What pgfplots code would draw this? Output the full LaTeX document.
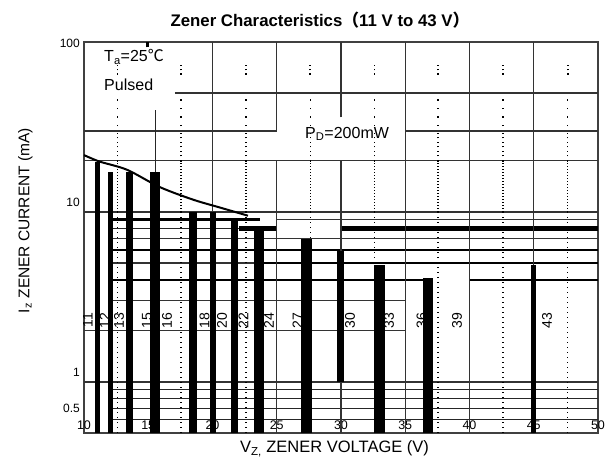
\documentclass[border=0pt]{standalone}
\usepackage{pgfplots}
\pgfplotsset{compat=1.18}
\usepackage{fontspec}
\setmainfont{Liberation Sans}
\newfontfamily\cjk{Noto Sans CJK SC}
\tikzset{
  grd/.style={black!80, line width=1.4pt},
  med/.style={black, line width=2pt},
  thk/.style={black, line width=2.6pt},
  band/.style={black, line width=5pt},
  thn/.style={black!85, line width=1.1pt},
}
\newcommand{\hl}[4]{\addplot[#1] coordinates {(#2,#4) (#3,#4)};}
\newcommand{\vl}[4]{\addplot[#1] coordinates {(#2,#3) (#2,#4)};}
\newcommand{\zbar}[4]{\addplot[fill=black, draw=none] coordinates {(#1,#3) (#1,#4) (#2,#4) (#2,#3)};}
\newcommand{\blab}[2]{\node[rotate=90, font=\fontsize{14}{16}\selectfont] at (axis cs:#1,2.3) {#2};}
\begin{document}
\begin{tikzpicture}
\path[use as bounding box] (-84pt,-29pt) rectangle (530pt,433pt);
\begin{axis}[
  at={(0,0)}, anchor=south west,
  scale only axis, width=514pt, height=391pt,
  xmin=10, xmax=50, ymode=log, ymin=0.5, ymax=100,
  xtick={10,15,20,25,30,35,40,45,50},
  xticklabel style={anchor=base, yshift=3pt, font=\fontsize{12.5}{14}\selectfont},
  ytick={0.5,1,10,100},
  yticklabels={\raisebox{20pt}{0.5},\raisebox{5pt}{1},\raisebox{5.5pt}{10},\raisebox{-5.5pt}{100}},
  yticklabel style={anchor=base east, inner sep=0pt, xshift=-4pt, font=\fontsize{12}{14}\selectfont},
  major tick length=0pt, minor tick length=0pt,
  axis line style={black!75, line width=1.4pt},
  /pgf/number format/assume math mode=true,
  no markers,
]
% horizontal grid segments
\hl{grd}{10}{50}{20}
\hl{grd}{10}{25}{30}
\hl{grd}{35}{50}{30}
\hl{grd}{17.08}{50}{50}
\hl{grd}{10}{50}{10}
\hl{thk}{12.26}{23.7}{9}
\hl{grd}{25}{50}{9}
\hl{thn}{12.26}{22.06}{8}
\hl{band}{22.06}{25}{8}
\hl{band}{30}{50}{8}
\hl{grd}{12.26}{50}{7}
\hl{med}{12.26}{50}{6}
\hl{grd}{12.26}{23.7}{5}
\hl{thk}{23.7}{50}{5}
\hl{med}{12.26}{36.8}{4}
\hl{med}{40}{50}{4}
\hl{grd}{12.26}{35}{3}
\hl{grd}{10}{35}{2}
\hl{grd}{10}{50}{1}
\hl{thn}{12.26}{50}{0.9}
\hl{thn}{12.26}{50}{0.8}
\hl{thn}{12.26}{50}{0.7}
\hl{thn}{12.26}{50}{0.6}
% vertical grid segments
\vl{grd}{20}{10}{100}
\vl{grd}{25}{30}{100}
\vl{grd}{25}{0.45}{20}
\vl{grd}{30}{36}{100}
\vl{grd}{30}{0.45}{20}
\vl{grd}{35}{0.45}{100}
\vl{grd}{40}{0.45}{100}
\vl{grd}{45}{0.45}{100}
\vl{thn}{15.53}{17.2}{39.8}
\vl{thk}{14.95}{93}{100}
% dotted verticals
\pgfplotsinvokeforeach{12.6,17.55,22.6,27.6,32.6,37.55,42.6,47.65}{
  \addplot[black, line width=1.2pt, dash pattern=on 1pt off 4pt] coordinates {(#1,0.5) (#1,10)};
  \addplot[black, line width=1.2pt, dash pattern=on 1pt off 2pt] coordinates {(#1,10) (#1,20)};
  \addplot[black, line width=1.2pt, dash pattern=on 1pt off 3.5pt] coordinates {(#1,20) (#1,30)};
  \addplot[black, line width=1.2pt, dash pattern=on 1.5pt off 7pt] coordinates {(#1,32) (#1,50)};
  \addplot[black, line width=1.4pt, dash pattern=on 1.5pt off 3pt] coordinates {(#1,64) (#1,73)};
}
% bar labels
\blab{10.3}{11}
\blab{11.62}{12}
\blab{12.72}{13}
\blab{14.9}{15}
\blab{16.46}{16}
\blab{19.38}{18}
\blab{20.74}{20}
\blab{22.41}{22}
\blab{24.40}{24}
\blab{26.61}{27}
\blab{30.70}{30}
\blab{33.74}{33}
\blab{36.26}{36}
\blab{39.03}{39}
\blab{46.03}{43}
% bars
\zbar{10.86}{11.25}{0.45}{19.8}
\zbar{11.87}{12.26}{0.45}{17.2}
\zbar{13.27}{13.81}{0.45}{17.2}
\zbar{15.14}{15.91}{0.45}{17.2}
\zbar{18.17}{18.79}{0.45}{10}
\zbar{19.81}{20.27}{0.45}{10}
\zbar{21.44}{21.98}{0.45}{9.1}
\zbar{23.23}{24.01}{0.45}{7.7}
\zbar{26.89}{27.74}{0.45}{6.9}
\zbar{29.69}{30.23}{1.0}{5.9}
\zbar{32.57}{33.42}{0.45}{4.9}
\zbar{36.38}{37.16}{0.45}{4.1}
\zbar{44.79}{45.18}{0.45}{4.9}
% power curve
\addplot[black, line width=2pt, smooth] coordinates {(10,21.6) (11.2,19.8) (13.35,17.7) (15.9,14.0) (18.5,11.8) (20.6,10.6) (22.76,9.5)};
% annotations
\node[anchor=base west, inner sep=0pt, font=\fontsize{16}{18}\selectfont] at (axis cs:11.56,76.3) {T\textsubscript{a}=25{\cjk ℃}};
\node[anchor=base west, inner sep=0pt, font=\fontsize{16}{18}\selectfont] at (axis cs:11.56,51.5) {Pulsed};
\node[anchor=base west, inner sep=0pt, font=\fontsize{16}{18}\selectfont] at (axis cs:27.2,27.2) {P\textsubscript{D}=200mW};
\end{axis}
\node[anchor=base, font=\bfseries\fontsize{16.8}{20}\selectfont] at (236pt,406pt) {Zener Characteristics{\cjk （}11 V to 43 V{\cjk ）}};
\node[rotate=90, anchor=base, font=\fontsize{15.5}{18}\selectfont] at (-54.5pt,212.5pt) {I\textsubscript{z} ZENER CURRENT (mA)};
\node[anchor=base, font=\fontsize{16.5}{18}\selectfont] at (250.5pt,-19.5pt) {V\textsubscript{Z,} ZENER VOLTAGE (V)};
\end{tikzpicture}
\end{document}
